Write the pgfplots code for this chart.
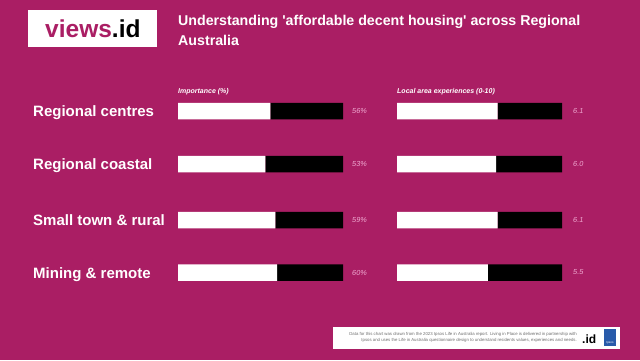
\documentclass[border=0pt]{standalone}
\usepackage{pgfplots}
\pgfplotsset{compat=1.18}
\usepackage{fontspec}
\setmainfont{Liberation Sans}
\definecolor{bgmag}{RGB}{170,30,100}
\definecolor{valpink}{RGB}{240,170,210}
\definecolor{ipsosblue}{RGB}{40,90,170}
\definecolor{footgray}{RGB}{110,110,110}
\begin{document}
\begin{tikzpicture}
\fill[bgmag] (0,0) rectangle (640pt,360pt);
% logo
\fill[white] (28pt,313pt) rectangle (157pt,350pt);
\node[anchor=base west, inner sep=0pt] at (45pt,323pt) {\fontsize{24.5}{26}\selectfont\bfseries\textcolor{bgmag}{views}\textcolor{black}{.id}};
% title
\node[anchor=base west, inner sep=0pt, text=white] at (178pt,335pt) {\fontsize{14.2}{16}\selectfont\bfseries Understanding \textquotesingle affordable decent housing\textquotesingle{} across Regional};
\node[anchor=base west, inner sep=0pt, text=white] at (178pt,315pt) {\fontsize{14.2}{16}\selectfont\bfseries Australia};
% category labels
\node[anchor=base west, inner sep=0pt, text=white] at (33pt,243.5pt) {\fontsize{15}{16}\selectfont\bfseries Regional centres};
\node[anchor=base west, inner sep=0pt, text=white] at (33pt,190.5pt) {\fontsize{15}{16}\selectfont\bfseries Regional coastal};
\node[anchor=base west, inner sep=0pt, text=white] at (33pt,134.5pt) {\fontsize{15}{16}\selectfont\bfseries Small town \& rural};
\node[anchor=base west, inner sep=0pt, text=white] at (33pt,82pt) {\fontsize{15}{16}\selectfont\bfseries Mining \& remote};
% panel headers
\node[anchor=west, inner sep=0pt, text=white] at (178pt,268pt) {\fontsize{7}{8}\selectfont\bfseries\itshape Importance (\%)};
\node[anchor=west, inner sep=0pt, text=white] at (397pt,268pt) {\fontsize{7}{8}\selectfont\bfseries\itshape Local area experiences (0-10)};

\begin{axis}[scale only axis, width=165pt, height=220pt, at={(178pt,280pt)}, anchor=north west,
  xmin=0, xmax=100, ymin=80, ymax=300, y dir=reverse, hide axis, xbar stacked, bar width=16.5pt, clip=false]
\addplot[fill=white, draw=none] coordinates {(56,111) (53,164) (59,220) (60,272.5)};
\addplot[fill=black, draw=none] coordinates {(44,111) (47,164) (41,220) (40,272.5)};
\node[anchor=west, inner sep=0pt, xshift=9pt, text=valpink] at (axis cs:100,111) {\fontsize{7.3}{8}\selectfont\itshape 56\%};
\node[anchor=west, inner sep=0pt, xshift=9pt, text=valpink] at (axis cs:100,164) {\fontsize{7.3}{8}\selectfont\itshape 53\%};
\node[anchor=west, inner sep=0pt, xshift=9pt, text=valpink] at (axis cs:100,220) {\fontsize{7.3}{8}\selectfont\itshape 59\%};
\node[anchor=west, inner sep=0pt, xshift=9pt, text=valpink] at (axis cs:100,272.5) {\fontsize{7.3}{8}\selectfont\itshape 60\%};
\end{axis}

\begin{axis}[scale only axis, width=165pt, height=220pt, at={(397pt,280pt)}, anchor=north west,
  xmin=0, xmax=10, ymin=80, ymax=300, y dir=reverse, hide axis, xbar stacked, bar width=16.5pt, clip=false]
\addplot[fill=white, draw=none] coordinates {(6.1,111) (6.0,164) (6.1,220) (5.5,272.5)};
\addplot[fill=black, draw=none] coordinates {(3.9,111) (4.0,164) (3.9,220) (4.5,272.5)};
\node[anchor=west, inner sep=0pt, xshift=11pt, text=valpink] at (axis cs:10,111) {\fontsize{7.3}{8}\selectfont\itshape 6.1};
\node[anchor=west, inner sep=0pt, xshift=11pt, text=valpink] at (axis cs:10,164) {\fontsize{7.3}{8}\selectfont\itshape 6.0};
\node[anchor=west, inner sep=0pt, xshift=11pt, text=valpink] at (axis cs:10,220) {\fontsize{7.3}{8}\selectfont\itshape 6.1};
\node[anchor=west, inner sep=0pt, xshift=11pt, text=valpink] at (axis cs:10,272.5) {\fontsize{7.3}{8}\selectfont\itshape 5.5};
\end{axis}

% footer
\fill[white] (333pt,11pt) rectangle (620pt,33pt);
\node[anchor=base east, inner sep=0pt, text=footgray] at (577pt,25pt) {\fontsize{4.3}{5}\selectfont Data for this chart was drawn from the 2023 Ipsos Life in Australia report. Living in Place is delivered in partnership with};
\node[anchor=base east, inner sep=0pt, text=footgray] at (577pt,18.5pt) {\fontsize{4.3}{5}\selectfont Ipsos and uses the Life in Australia questionnaire design to understand residents values, experiences and needs.};
\node[anchor=base west, inner sep=0pt] at (582pt,17pt) {\fontsize{12}{13}\selectfont\bfseries .id};
\fill[ipsosblue] (604pt,14pt) rectangle (616pt,31pt);
\node[inner sep=0pt, text=white] at (610pt,17pt) {\fontsize{3}{4}\selectfont Ipsos};
\pgfresetboundingbox
\path[use as bounding box] (0,0) rectangle (640pt,360pt);
\end{tikzpicture}
\end{document}
